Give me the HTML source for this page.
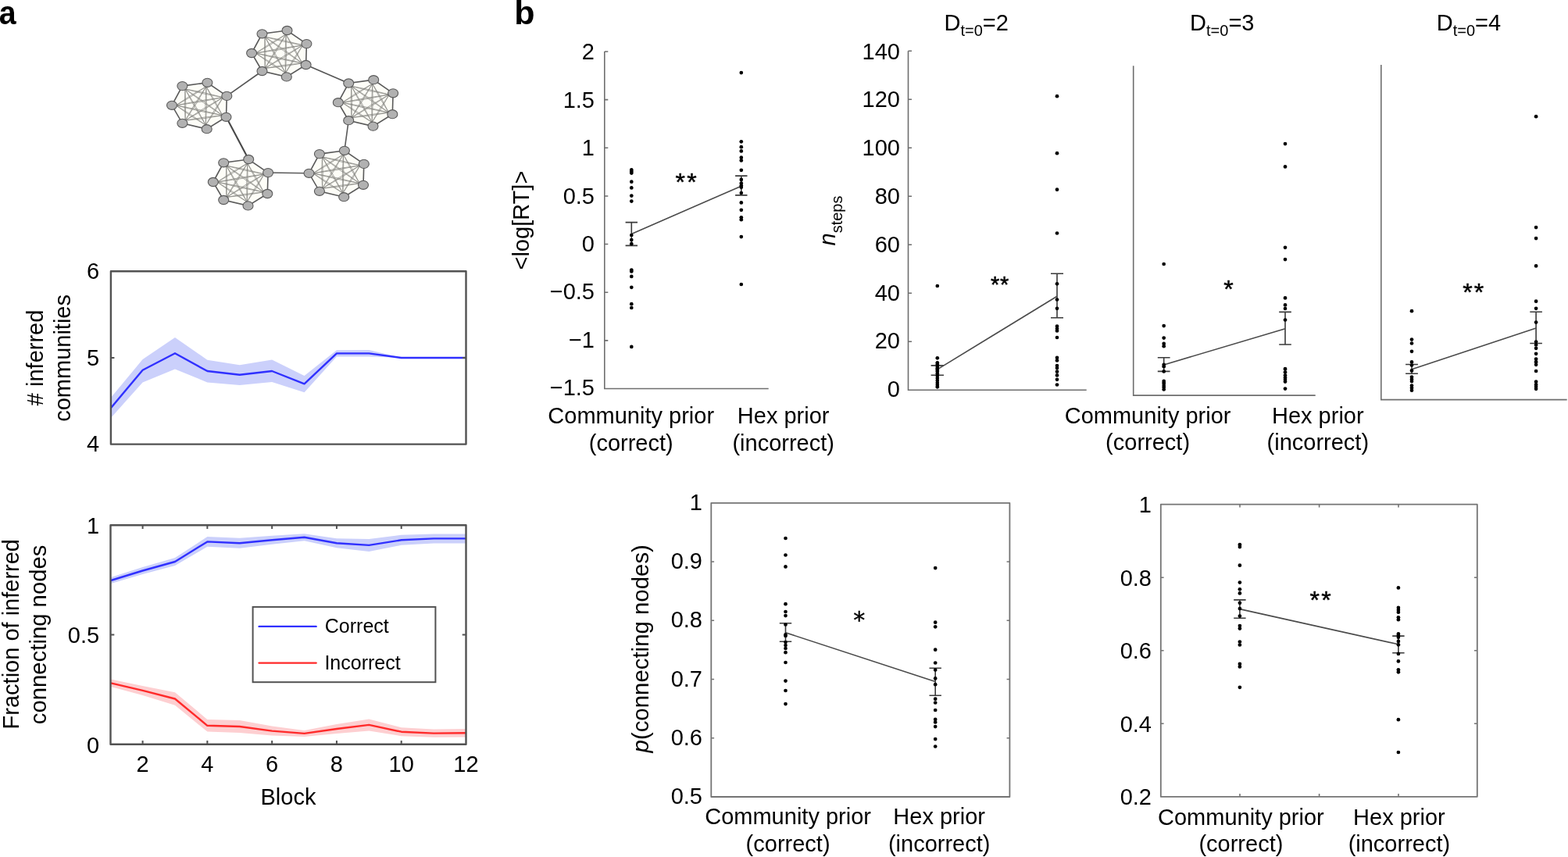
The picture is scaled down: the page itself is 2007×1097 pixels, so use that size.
<!DOCTYPE html>
<html><head><meta charset="utf-8"><title>Figure</title>
<style>
html,body{margin:0;padding:0;background:#fff;}
body{width:2007px;height:1097px;overflow:hidden;}
svg{display:block;}
</style></head>
<body>
<svg width="2007" height="1097" viewBox="0 0 2007 1097" font-family='"Liberation Sans", Arial, Helvetica, sans-serif' fill="#000">
<rect width="2007" height="1097" fill="#fff"/>
<text transform="translate(-1.2 30.8) scale(0.915 1)" font-size="43" font-weight="bold">a</text>
<text x="658.3" y="30.8" font-size="43" font-weight="bold">b</text>
<g><line x1="335.5" y1="91" x2="290.3" y2="122.9" stroke="#555" stroke-width="1.6"/><line x1="391.6" y1="83" x2="446.2" y2="106.5" stroke="#555" stroke-width="1.6"/><line x1="289.5" y1="149.8" x2="318.2" y2="204" stroke="#484848" stroke-width="2.1"/><line x1="343.1" y1="221.1" x2="395.5" y2="221.8" stroke="#5a5a5a" stroke-width="1.5"/><line x1="440.9" y1="192.8" x2="446.2" y2="154.2" stroke="#5a5a5a" stroke-width="1.6"/><polygon points="322.1,68 335.5,43.3 367.5,39 392.4,56.1 391.6,83 366.8,98.4 335.5,91" fill="#fdfdf7" stroke="none"/><path d="M327.3 68.06Q347.45 57.29 366.02 43.98M327.3 68.06Q345.87 54.75 366.02 43.98M327.3 68.06Q357.66 64.45 387.52 57.89M327.3 68.06Q357.16 61.49 387.52 57.89M327.3 68.06Q356.76 75.94 386.85 80.89M327.3 68.06Q357.39 73.01 386.85 80.89M327.3 68.06Q345.55 81.97 365.46 93.38M327.3 68.06Q347.21 79.47 365.46 93.38M339.04 47.11Q362.95 53.96 387.52 57.89M339.04 47.11Q363.6 51.04 387.52 57.89M339.04 47.11Q362.08 65.23 386.85 80.89M339.04 47.11Q363.81 62.77 386.85 80.89M339.04 47.11Q350.94 70.99 365.46 93.38M339.04 47.11Q353.55 69.5 365.46 93.38M339.04 47.11Q337.63 67.25 339.23 87.38M339.04 47.11Q340.63 67.24 339.23 87.38M366.02 43.98Q375.13 63.17 386.85 80.89M366.02 43.98Q377.74 61.7 386.85 80.89M366.02 43.98Q364.24 68.66 365.46 93.38M366.02 43.98Q367.24 68.7 365.46 93.38M366.02 43.98Q351.35 64.89 339.23 87.38M366.02 43.98Q353.9 66.47 339.23 87.38M387.52 57.89Q375.21 74.84 365.46 93.38M387.52 57.89Q377.76 76.42 365.46 93.38M387.52 57.89Q362.59 71.35 339.23 87.38M387.52 57.89Q364.16 73.91 339.23 87.38M386.85 80.89Q362.84 82.65 339.23 87.38M386.85 80.89Q363.24 85.62 339.23 87.38" stroke="#80807c" stroke-width="0.72" fill="none"/><polygon points="322.1,68 335.5,43.3 367.5,39 392.4,56.1 391.6,83 366.8,98.4 335.5,91" fill="none" stroke="#5a5a5a" stroke-width="1.6"/><ellipse cx="322.1" cy="68" rx="6.5" ry="5.6" fill="#b1b1b1" stroke="#5a5a5a" stroke-width="1.1"/><ellipse cx="335.5" cy="43.3" rx="6.5" ry="5.6" fill="#b1b1b1" stroke="#5a5a5a" stroke-width="1.1"/><ellipse cx="367.5" cy="39" rx="6.5" ry="5.6" fill="#b1b1b1" stroke="#5a5a5a" stroke-width="1.1"/><ellipse cx="392.4" cy="56.1" rx="6.5" ry="5.6" fill="#b1b1b1" stroke="#5a5a5a" stroke-width="1.1"/><ellipse cx="391.6" cy="83" rx="6.5" ry="5.6" fill="#b1b1b1" stroke="#5a5a5a" stroke-width="1.1"/><ellipse cx="366.8" cy="98.4" rx="6.5" ry="5.6" fill="#b1b1b1" stroke="#5a5a5a" stroke-width="1.1"/><ellipse cx="335.5" cy="91" rx="6.5" ry="5.6" fill="#b1b1b1" stroke="#5a5a5a" stroke-width="1.1"/><polygon points="220,134.8 233.4,110.1 265.4,105.8 290.3,122.9 289.5,149.8 264.7,165.2 233.4,157.8" fill="#fdfdf7" stroke="none"/><path d="M225.2 134.86Q245.35 124.09 263.92 110.78M225.2 134.86Q243.77 121.55 263.92 110.78M225.2 134.86Q255.56 131.25 285.42 124.69M225.2 134.86Q255.06 128.29 285.42 124.69M225.2 134.86Q254.66 142.74 284.75 147.69M225.2 134.86Q255.29 139.81 284.75 147.69M225.2 134.86Q243.45 148.77 263.36 160.18M225.2 134.86Q245.11 146.27 263.36 160.18M236.94 113.91Q260.85 120.76 285.42 124.69M236.94 113.91Q261.5 117.84 285.42 124.69M236.94 113.91Q259.98 132.03 284.75 147.69M236.94 113.91Q261.71 129.57 284.75 147.69M236.94 113.91Q248.84 137.79 263.36 160.18M236.94 113.91Q251.45 136.3 263.36 160.18M236.94 113.91Q235.53 134.05 237.13 154.18M236.94 113.91Q238.53 134.04 237.13 154.18M263.92 110.78Q273.03 129.97 284.75 147.69M263.92 110.78Q275.64 128.5 284.75 147.69M263.92 110.78Q262.14 135.46 263.36 160.18M263.92 110.78Q265.14 135.5 263.36 160.18M263.92 110.78Q249.25 131.69 237.13 154.18M263.92 110.78Q251.8 133.27 237.13 154.18M285.42 124.69Q273.11 141.64 263.36 160.18M285.42 124.69Q275.66 143.22 263.36 160.18M285.42 124.69Q260.49 138.15 237.13 154.18M285.42 124.69Q262.06 140.71 237.13 154.18M284.75 147.69Q260.74 149.45 237.13 154.18M284.75 147.69Q261.14 152.42 237.13 154.18" stroke="#80807c" stroke-width="0.72" fill="none"/><polygon points="220,134.8 233.4,110.1 265.4,105.8 290.3,122.9 289.5,149.8 264.7,165.2 233.4,157.8" fill="none" stroke="#5a5a5a" stroke-width="1.6"/><ellipse cx="220" cy="134.8" rx="6.5" ry="5.6" fill="#b1b1b1" stroke="#5a5a5a" stroke-width="1.1"/><ellipse cx="233.4" cy="110.1" rx="6.5" ry="5.6" fill="#b1b1b1" stroke="#5a5a5a" stroke-width="1.1"/><ellipse cx="265.4" cy="105.8" rx="6.5" ry="5.6" fill="#b1b1b1" stroke="#5a5a5a" stroke-width="1.1"/><ellipse cx="290.3" cy="122.9" rx="6.5" ry="5.6" fill="#b1b1b1" stroke="#5a5a5a" stroke-width="1.1"/><ellipse cx="289.5" cy="149.8" rx="6.5" ry="5.6" fill="#b1b1b1" stroke="#5a5a5a" stroke-width="1.1"/><ellipse cx="264.7" cy="165.2" rx="6.5" ry="5.6" fill="#b1b1b1" stroke="#5a5a5a" stroke-width="1.1"/><ellipse cx="233.4" cy="157.8" rx="6.5" ry="5.6" fill="#b1b1b1" stroke="#5a5a5a" stroke-width="1.1"/><polygon points="432.8,131.2 446.2,106.5 478.2,102.2 503.1,119.3 502.3,146.2 477.5,161.6 446.2,154.2" fill="#fdfdf7" stroke="none"/><path d="M438 131.26Q458.15 120.49 476.72 107.18M438 131.26Q456.57 117.95 476.72 107.18M438 131.26Q468.36 127.65 498.22 121.09M438 131.26Q467.86 124.69 498.22 121.09M438 131.26Q467.46 139.14 497.55 144.09M438 131.26Q468.09 136.21 497.55 144.09M438 131.26Q456.25 145.17 476.16 156.58M438 131.26Q457.91 142.67 476.16 156.58M449.74 110.31Q473.65 117.16 498.22 121.09M449.74 110.31Q474.3 114.24 498.22 121.09M449.74 110.31Q472.78 128.43 497.55 144.09M449.74 110.31Q474.51 125.97 497.55 144.09M449.74 110.31Q461.64 134.19 476.16 156.58M449.74 110.31Q464.25 132.7 476.16 156.58M449.74 110.31Q448.33 130.45 449.93 150.58M449.74 110.31Q451.33 130.44 449.93 150.58M476.72 107.18Q485.83 126.37 497.55 144.09M476.72 107.18Q488.44 124.9 497.55 144.09M476.72 107.18Q474.94 131.86 476.16 156.58M476.72 107.18Q477.94 131.9 476.16 156.58M476.72 107.18Q462.05 128.09 449.93 150.58M476.72 107.18Q464.6 129.67 449.93 150.58M498.22 121.09Q485.91 138.04 476.16 156.58M498.22 121.09Q488.46 139.62 476.16 156.58M498.22 121.09Q473.29 134.55 449.93 150.58M498.22 121.09Q474.86 137.11 449.93 150.58M497.55 144.09Q473.54 145.85 449.93 150.58M497.55 144.09Q473.94 148.82 449.93 150.58" stroke="#80807c" stroke-width="0.72" fill="none"/><polygon points="432.8,131.2 446.2,106.5 478.2,102.2 503.1,119.3 502.3,146.2 477.5,161.6 446.2,154.2" fill="none" stroke="#5a5a5a" stroke-width="1.6"/><ellipse cx="432.8" cy="131.2" rx="6.5" ry="5.6" fill="#b1b1b1" stroke="#5a5a5a" stroke-width="1.1"/><ellipse cx="446.2" cy="106.5" rx="6.5" ry="5.6" fill="#b1b1b1" stroke="#5a5a5a" stroke-width="1.1"/><ellipse cx="478.2" cy="102.2" rx="6.5" ry="5.6" fill="#b1b1b1" stroke="#5a5a5a" stroke-width="1.1"/><ellipse cx="503.1" cy="119.3" rx="6.5" ry="5.6" fill="#b1b1b1" stroke="#5a5a5a" stroke-width="1.1"/><ellipse cx="502.3" cy="146.2" rx="6.5" ry="5.6" fill="#b1b1b1" stroke="#5a5a5a" stroke-width="1.1"/><ellipse cx="477.5" cy="161.6" rx="6.5" ry="5.6" fill="#b1b1b1" stroke="#5a5a5a" stroke-width="1.1"/><ellipse cx="446.2" cy="154.2" rx="6.5" ry="5.6" fill="#b1b1b1" stroke="#5a5a5a" stroke-width="1.1"/><polygon points="272.8,233 286.2,208.3 318.2,204 343.1,221.1 342.3,248 317.5,263.4 286.2,256" fill="#fdfdf7" stroke="none"/><path d="M278 233.06Q298.15 222.29 316.72 208.98M278 233.06Q296.57 219.75 316.72 208.98M278 233.06Q308.36 229.45 338.22 222.89M278 233.06Q307.86 226.49 338.22 222.89M278 233.06Q307.46 240.94 337.55 245.89M278 233.06Q308.09 238.01 337.55 245.89M278 233.06Q296.25 246.97 316.16 258.38M278 233.06Q297.91 244.47 316.16 258.38M289.74 212.11Q313.65 218.96 338.22 222.89M289.74 212.11Q314.3 216.04 338.22 222.89M289.74 212.11Q312.78 230.23 337.55 245.89M289.74 212.11Q314.51 227.77 337.55 245.89M289.74 212.11Q301.64 235.99 316.16 258.38M289.74 212.11Q304.25 234.5 316.16 258.38M289.74 212.11Q288.33 232.25 289.93 252.38M289.74 212.11Q291.33 232.24 289.93 252.38M316.72 208.98Q325.83 228.17 337.55 245.89M316.72 208.98Q328.44 226.7 337.55 245.89M316.72 208.98Q314.94 233.66 316.16 258.38M316.72 208.98Q317.94 233.7 316.16 258.38M316.72 208.98Q302.05 229.89 289.93 252.38M316.72 208.98Q304.6 231.47 289.93 252.38M338.22 222.89Q325.91 239.84 316.16 258.38M338.22 222.89Q328.46 241.42 316.16 258.38M338.22 222.89Q313.29 236.35 289.93 252.38M338.22 222.89Q314.86 238.91 289.93 252.38M337.55 245.89Q313.54 247.65 289.93 252.38M337.55 245.89Q313.94 250.62 289.93 252.38" stroke="#80807c" stroke-width="0.72" fill="none"/><polygon points="272.8,233 286.2,208.3 318.2,204 343.1,221.1 342.3,248 317.5,263.4 286.2,256" fill="none" stroke="#5a5a5a" stroke-width="1.6"/><ellipse cx="272.8" cy="233" rx="6.5" ry="5.6" fill="#b1b1b1" stroke="#5a5a5a" stroke-width="1.1"/><ellipse cx="286.2" cy="208.3" rx="6.5" ry="5.6" fill="#b1b1b1" stroke="#5a5a5a" stroke-width="1.1"/><ellipse cx="318.2" cy="204" rx="6.5" ry="5.6" fill="#b1b1b1" stroke="#5a5a5a" stroke-width="1.1"/><ellipse cx="343.1" cy="221.1" rx="6.5" ry="5.6" fill="#b1b1b1" stroke="#5a5a5a" stroke-width="1.1"/><ellipse cx="342.3" cy="248" rx="6.5" ry="5.6" fill="#b1b1b1" stroke="#5a5a5a" stroke-width="1.1"/><ellipse cx="317.5" cy="263.4" rx="6.5" ry="5.6" fill="#b1b1b1" stroke="#5a5a5a" stroke-width="1.1"/><ellipse cx="286.2" cy="256" rx="6.5" ry="5.6" fill="#b1b1b1" stroke="#5a5a5a" stroke-width="1.1"/><polygon points="395.5,221.8 408.9,197.1 440.9,192.8 465.8,209.9 465,236.8 440.2,252.2 408.9,244.8" fill="#fdfdf7" stroke="none"/><path d="M400.7 221.86Q420.85 211.09 439.42 197.78M400.7 221.86Q419.27 208.55 439.42 197.78M400.7 221.86Q431.06 218.25 460.92 211.69M400.7 221.86Q430.56 215.29 460.92 211.69M400.7 221.86Q430.16 229.74 460.25 234.69M400.7 221.86Q430.79 226.81 460.25 234.69M400.7 221.86Q418.95 235.77 438.86 247.18M400.7 221.86Q420.61 233.27 438.86 247.18M412.44 200.91Q436.35 207.76 460.92 211.69M412.44 200.91Q437 204.84 460.92 211.69M412.44 200.91Q435.48 219.03 460.25 234.69M412.44 200.91Q437.21 216.57 460.25 234.69M412.44 200.91Q424.34 224.79 438.86 247.18M412.44 200.91Q426.95 223.3 438.86 247.18M412.44 200.91Q411.03 221.05 412.63 241.18M412.44 200.91Q414.03 221.04 412.63 241.18M439.42 197.78Q448.53 216.97 460.25 234.69M439.42 197.78Q451.14 215.5 460.25 234.69M439.42 197.78Q437.64 222.46 438.86 247.18M439.42 197.78Q440.64 222.5 438.86 247.18M439.42 197.78Q424.75 218.69 412.63 241.18M439.42 197.78Q427.3 220.27 412.63 241.18M460.92 211.69Q448.61 228.64 438.86 247.18M460.92 211.69Q451.16 230.22 438.86 247.18M460.92 211.69Q435.99 225.15 412.63 241.18M460.92 211.69Q437.56 227.71 412.63 241.18M460.25 234.69Q436.24 236.45 412.63 241.18M460.25 234.69Q436.64 239.42 412.63 241.18" stroke="#80807c" stroke-width="0.72" fill="none"/><polygon points="395.5,221.8 408.9,197.1 440.9,192.8 465.8,209.9 465,236.8 440.2,252.2 408.9,244.8" fill="none" stroke="#5a5a5a" stroke-width="1.6"/><ellipse cx="395.5" cy="221.8" rx="6.5" ry="5.6" fill="#b1b1b1" stroke="#5a5a5a" stroke-width="1.1"/><ellipse cx="408.9" cy="197.1" rx="6.5" ry="5.6" fill="#b1b1b1" stroke="#5a5a5a" stroke-width="1.1"/><ellipse cx="440.9" cy="192.8" rx="6.5" ry="5.6" fill="#b1b1b1" stroke="#5a5a5a" stroke-width="1.1"/><ellipse cx="465.8" cy="209.9" rx="6.5" ry="5.6" fill="#b1b1b1" stroke="#5a5a5a" stroke-width="1.1"/><ellipse cx="465" cy="236.8" rx="6.5" ry="5.6" fill="#b1b1b1" stroke="#5a5a5a" stroke-width="1.1"/><ellipse cx="440.2" cy="252.2" rx="6.5" ry="5.6" fill="#b1b1b1" stroke="#5a5a5a" stroke-width="1.1"/><ellipse cx="408.9" cy="244.8" rx="6.5" ry="5.6" fill="#b1b1b1" stroke="#5a5a5a" stroke-width="1.1"/></g>
<polygon points="141.9,509 182.59,460.1 223.98,432 265.37,460.7 306.76,467.2 348.15,460.5 389.54,480.9 430.93,448.2 472.32,447.9 513.71,458 555.1,458 596.5,458 596.5,458 555.1,458 513.71,458 472.32,456.6 430.93,456.6 389.54,502.3 348.15,489 306.76,492.9 265.37,489.4 223.98,472.6 182.59,489.4 141.9,535" fill="#cbd0fb" stroke="none"/>
<polyline points="141.9,522.2 182.59,473.8 223.98,452.3 265.37,475 306.76,479.8 348.15,475 389.54,491.3 430.93,452.4 472.32,452.4 513.71,458 555.1,458 596.5,458" fill="none" stroke="#3030ff" stroke-width="2.4" stroke-linejoin="round"/>
<rect x="141.9" y="347.2" width="454.6" height="221.4" fill="none" stroke="#525252" stroke-width="2.4" stroke-linejoin="round"/>
<path d="M141.9 457.9h4.5M596.5 457.9h-4.5" stroke="#525252" stroke-width="2"/>
<text x="127.2" y="356.8" font-size="29" text-anchor="end">6</text>
<text x="127.2" y="467.5" font-size="29" text-anchor="end">5</text>
<text x="127.2" y="578.2" font-size="29" text-anchor="end">4</text>
<text transform="translate(54.7 457.9) rotate(-90)" font-size="29" text-anchor="middle">#  inferred</text>
<text transform="translate(90.0 458.4) rotate(-90)" font-size="29" text-anchor="middle">communities</text>
<polygon points="141.9,739 182.59,726 223.98,714 265.37,687.1 306.76,688.7 348.15,685.8 389.54,683.3 430.93,689.3 472.32,689.9 513.71,684.8 555.1,683.4 596.5,683.4 596.5,695.4 555.1,695.4 513.71,697.8 472.32,705.9 430.93,701.3 389.54,692.3 348.15,696.8 306.76,701.7 265.37,699.7 223.98,724 182.59,735 141.9,747" fill="#cbd0fb" stroke="none"/>
<polygon points="141.9,869.5 182.59,877.9 223.98,886.2 265.37,921 306.76,922 348.15,929.6 389.54,934.9 430.93,927 472.32,920.4 513.71,931.2 555.1,933.4 596.5,933 596.5,943.4 555.1,943.8 513.71,942.2 472.32,935.4 430.93,939 389.54,942.9 348.15,941.6 306.76,938 265.37,936.6 223.98,902.8 182.59,889.9 141.9,879.1" fill="#fdcfd1" stroke="none"/>
<polyline points="141.9,743 182.59,730.5 223.98,719 265.37,693.4 306.76,695.2 348.15,691.3 389.54,687.8 430.93,695.3 472.32,697.9 513.71,691.3 555.1,689.4 596.5,689.4" fill="none" stroke="#3030ff" stroke-width="2.4" stroke-linejoin="round"/>
<polyline points="141.9,874.3 182.59,883.9 223.98,894.5 265.37,928.8 306.76,930 348.15,935.6 389.54,938.9 430.93,933 472.32,927.9 513.71,936.7 555.1,938.6 596.5,938.2" fill="none" stroke="#ff2a2a" stroke-width="2.4" stroke-linejoin="round"/>
<rect x="141.5" y="672.3" width="455" height="280.4" fill="none" stroke="#525252" stroke-width="2.4" stroke-linejoin="round"/>
<path d="M182.59 672.3v4.8M182.59 952.7v-4.8M265.37 672.3v4.8M265.37 952.7v-4.8M348.15 672.3v4.8M348.15 952.7v-4.8M430.93 672.3v4.8M430.93 952.7v-4.8M513.71 672.3v4.8M513.71 952.7v-4.8M141.5 812.5h4.8M596.5 812.5h-4.8" stroke="#525252" stroke-width="2"/>
<text x="127.2" y="683.2" font-size="29" text-anchor="end">1</text>
<text x="127.2" y="823.4" font-size="29" text-anchor="end">0.5</text>
<text x="127.2" y="963.6" font-size="29" text-anchor="end">0</text>
<text x="182.59" y="988" font-size="29" text-anchor="middle">2</text>
<text x="265.37" y="988" font-size="29" text-anchor="middle">4</text>
<text x="348.15" y="988" font-size="29" text-anchor="middle">6</text>
<text x="430.93" y="988" font-size="29" text-anchor="middle">8</text>
<text x="513.71" y="988" font-size="29" text-anchor="middle">10</text>
<text x="596.49" y="988" font-size="29" text-anchor="middle">12</text>
<text x="369" y="1030.4" font-size="29" text-anchor="middle">Block</text>
<text transform="translate(23.8 811.7) rotate(-90)" font-size="29" text-anchor="middle">Fraction of inferred</text>
<text transform="translate(59.1 812.4) rotate(-90)" font-size="29.3" text-anchor="middle">connecting nodes</text>
<rect x="323.6" y="776.9" width="233.8" height="96.3" fill="#fff" stroke="#525252" stroke-width="2"/>
<line x1="331.6" y1="801.9" x2="404.6" y2="801.9" stroke="#3030ff" stroke-width="2.4" stroke-linecap="round"/>
<line x1="331.6" y1="848.6" x2="404.6" y2="848.6" stroke="#ff2a2a" stroke-width="2.4" stroke-linecap="round"/>
<text x="415.8" y="810.3" font-size="25">Correct</text>
<text x="415.4" y="857" font-size="25">Incorrect</text>
<path d="M773.8 66V497.5H983.7" fill="none" stroke="#6e6e6e" stroke-width="1.6"/>
<text x="761" y="76.3" font-size="29" text-anchor="end">2</text>
<text x="761" y="137.7" font-size="29" text-anchor="end">1.5</text>
<text x="761" y="199.1" font-size="29" text-anchor="end">1</text>
<text x="761" y="260.5" font-size="29" text-anchor="end">0.5</text>
<text x="761" y="321.9" font-size="29" text-anchor="end">0</text>
<text x="761" y="383.3" font-size="29" text-anchor="end">−0.5</text>
<text x="761" y="444.7" font-size="29" text-anchor="end">−1</text>
<text x="761" y="506.1" font-size="29" text-anchor="end">−1.5</text>
<path d="M773.8 66h4.5M773.8 127.64h4.5M773.8 189.29h4.5M773.8 250.93h4.5M773.8 312.57h4.5M773.8 374.21h4.5M773.8 435.86h4.5" stroke="#6e6e6e" stroke-width="1.6"/>
<g fill="#000"><path d="M800.6 284.6h15.4M800.6 314.4h15.4M808.3 284.6V314.4" stroke="#3a3a3a" stroke-width="1.6" fill="none"/><path d="M941.1 225.1h15.4M941.1 249.9h15.4M948.8 225.1V249.9" stroke="#3a3a3a" stroke-width="1.6" fill="none"/><line x1="808.3" y1="299.4" x2="948.8" y2="238.2" stroke="#4a4a4a" stroke-width="1.6"/><circle cx="808.3" cy="217.4" r="2.35"/><circle cx="808.3" cy="219.6" r="2.35"/><circle cx="808.3" cy="221.6" r="2.35"/><circle cx="808.3" cy="232.7" r="2.35"/><circle cx="808.3" cy="240.4" r="2.35"/><circle cx="808.3" cy="250.6" r="2.35"/><circle cx="808.3" cy="257.6" r="2.35"/><circle cx="808.3" cy="301" r="2.35"/><circle cx="808.3" cy="307.1" r="2.35"/><circle cx="808.3" cy="312.2" r="2.35"/><circle cx="808.3" cy="345.5" r="2.35"/><circle cx="808.3" cy="347.4" r="2.35"/><circle cx="808.3" cy="353.9" r="2.35"/><circle cx="808.3" cy="367.8" r="2.35"/><circle cx="808.3" cy="389.2" r="2.35"/><circle cx="808.3" cy="394" r="2.35"/><circle cx="808.3" cy="443.9" r="2.35"/><circle cx="948.8" cy="93.1" r="2.35"/><circle cx="948.8" cy="181.3" r="2.35"/><circle cx="948.8" cy="188.2" r="2.35"/><circle cx="948.8" cy="193.4" r="2.35"/><circle cx="948.8" cy="201.7" r="2.35"/><circle cx="948.8" cy="205.4" r="2.35"/><circle cx="948.8" cy="217.8" r="2.35"/><circle cx="948.8" cy="229.9" r="2.35"/><circle cx="948.8" cy="234.6" r="2.35"/><circle cx="948.8" cy="237.5" r="2.35"/><circle cx="948.8" cy="239.7" r="2.35"/><circle cx="948.8" cy="247" r="2.35"/><circle cx="948.8" cy="259.4" r="2.35"/><circle cx="948.8" cy="268.8" r="2.35"/><circle cx="948.8" cy="278.3" r="2.35"/><circle cx="948.8" cy="281.2" r="2.35"/><circle cx="948.8" cy="303.1" r="2.35"/><circle cx="948.8" cy="364" r="2.35"/></g>
<text x="879.3" y="243.5" font-size="32" letter-spacing="2.4" stroke="#000" stroke-width="0.5" text-anchor="middle">**</text>
<text transform="translate(677.4 282.1) rotate(-90)" font-size="29" text-anchor="middle">&lt;log[RT]&gt;</text>
<text x="807.7" y="542.3" font-size="29" text-anchor="middle">Community prior</text>
<text x="807.7" y="576.7" font-size="29" text-anchor="middle">(correct)</text>
<text x="1002.7" y="542.1" font-size="29" text-anchor="middle">Hex prior</text>
<text x="1002.7" y="576.5" font-size="29" text-anchor="middle">(incorrect)</text>
<path d="M1162.5 65.3V499.3H1390.7" fill="none" stroke="#6e6e6e" stroke-width="1.6"/>
<text x="1152" y="75.6" font-size="29" text-anchor="end">140</text>
<text x="1152" y="137.39" font-size="29" text-anchor="end">120</text>
<text x="1152" y="199.17" font-size="29" text-anchor="end">100</text>
<text x="1152" y="260.96" font-size="29" text-anchor="end">80</text>
<text x="1152" y="322.74" font-size="29" text-anchor="end">60</text>
<text x="1152" y="384.53" font-size="29" text-anchor="end">40</text>
<text x="1152" y="446.31" font-size="29" text-anchor="end">20</text>
<text x="1152" y="508.1" font-size="29" text-anchor="end">0</text>
<path d="M1162.5 65.3h4.5M1162.5 127.3h4.5M1162.5 189.3h4.5M1162.5 251.3h4.5M1162.5 313.3h4.5M1162.5 375.3h4.5M1162.5 437.3h4.5" stroke="#6e6e6e" stroke-width="1.6"/>
<g fill="#000"><path d="M1191.6 467.9h16.4M1191.6 480.3h16.4M1199.8 467.9V480.3" stroke="#3a3a3a" stroke-width="1.6" fill="none"/><path d="M1345 350.2h16M1345 406.7h16M1353 350.2V406.7" stroke="#3a3a3a" stroke-width="1.6" fill="none"/><line x1="1199.8" y1="472.9" x2="1353" y2="379.3" stroke="#4a4a4a" stroke-width="1.6"/><circle cx="1199.8" cy="366" r="2.35"/><circle cx="1199.8" cy="458.3" r="2.35"/><circle cx="1199.8" cy="464.3" r="2.35"/><circle cx="1199.8" cy="466.6" r="2.35"/><circle cx="1199.8" cy="469" r="2.35"/><circle cx="1199.8" cy="471.3" r="2.35"/><circle cx="1199.8" cy="473.2" r="2.35"/><circle cx="1199.8" cy="475.6" r="2.35"/><circle cx="1199.8" cy="478.2" r="2.35"/><circle cx="1199.8" cy="481" r="2.35"/><circle cx="1199.8" cy="484" r="2.35"/><circle cx="1199.8" cy="487" r="2.35"/><circle cx="1199.8" cy="490" r="2.35"/><circle cx="1199.8" cy="492.8" r="2.35"/><circle cx="1199.8" cy="495.3" r="2.35"/><circle cx="1353" cy="123.2" r="2.35"/><circle cx="1353" cy="196.2" r="2.35"/><circle cx="1353" cy="242.7" r="2.35"/><circle cx="1353" cy="298.5" r="2.35"/><circle cx="1353" cy="363.3" r="2.35"/><circle cx="1353" cy="383.5" r="2.35"/><circle cx="1353" cy="394.8" r="2.35"/><circle cx="1353" cy="417.6" r="2.35"/><circle cx="1353" cy="420.7" r="2.35"/><circle cx="1353" cy="423.5" r="2.35"/><circle cx="1353" cy="432" r="2.35"/><circle cx="1353" cy="457.9" r="2.35"/><circle cx="1353" cy="461.5" r="2.35"/><circle cx="1353" cy="468" r="2.35"/><circle cx="1353" cy="471.1" r="2.35"/><circle cx="1353" cy="475.7" r="2.35"/><circle cx="1353" cy="480.4" r="2.35"/><circle cx="1353" cy="485.8" r="2.35"/><circle cx="1353" cy="492.5" r="2.35"/></g>
<text x="1280.1" y="373.5" font-size="29" letter-spacing="0.8" stroke="#000" stroke-width="0.5" text-anchor="middle">**</text>
<path d="M1450.7 84.2V506.1H1683.7" fill="none" stroke="#6e6e6e" stroke-width="1.6"/>
<g fill="#000"><path d="M1481.8 457.8h15.8M1481.8 475.4h15.8M1489.7 457.8V475.4" stroke="#3a3a3a" stroke-width="1.6" fill="none"/><path d="M1637.2 399.4h15.6M1637.2 441h15.6M1645 399.4V441" stroke="#3a3a3a" stroke-width="1.6" fill="none"/><line x1="1489.7" y1="466.9" x2="1645" y2="420.8" stroke="#4a4a4a" stroke-width="1.6"/><circle cx="1489.7" cy="338" r="2.35"/><circle cx="1489.7" cy="417.1" r="2.35"/><circle cx="1489.7" cy="432.6" r="2.35"/><circle cx="1489.7" cy="439.9" r="2.35"/><circle cx="1489.7" cy="443.2" r="2.35"/><circle cx="1489.7" cy="466.9" r="2.35"/><circle cx="1489.7" cy="469.2" r="2.35"/><circle cx="1489.7" cy="475.4" r="2.35"/><circle cx="1489.7" cy="487.9" r="2.35"/><circle cx="1489.7" cy="490.2" r="2.35"/><circle cx="1489.7" cy="493" r="2.35"/><circle cx="1489.7" cy="495.5" r="2.35"/><circle cx="1489.7" cy="498.4" r="2.35"/><circle cx="1645" cy="184.1" r="2.35"/><circle cx="1645" cy="213.4" r="2.35"/><circle cx="1645" cy="316.8" r="2.35"/><circle cx="1645" cy="332.1" r="2.35"/><circle cx="1645" cy="381.4" r="2.35"/><circle cx="1645" cy="390.4" r="2.35"/><circle cx="1645" cy="395" r="2.35"/><circle cx="1645" cy="409.5" r="2.35"/><circle cx="1645" cy="472.2" r="2.35"/><circle cx="1645" cy="476.3" r="2.35"/><circle cx="1645" cy="480.4" r="2.35"/><circle cx="1645" cy="483.5" r="2.35"/><circle cx="1645" cy="486" r="2.35"/><circle cx="1645" cy="488.6" r="2.35"/><circle cx="1645" cy="497.6" r="2.35"/></g>
<text x="1572.5" y="380.5" font-size="32" stroke="#000" stroke-width="0.5" text-anchor="middle">*</text>
<path d="M1767.8 83.1V511.6H2005.7" fill="none" stroke="#6e6e6e" stroke-width="1.6"/>
<g fill="#000"><path d="M1799.1 466.5h15.8M1799.1 478.2h15.8M1807 466.5V478.2" stroke="#3a3a3a" stroke-width="1.6" fill="none"/><path d="M1958.3 399.3h15.6M1958.3 439.5h15.6M1966.1 399.3V439.5" stroke="#3a3a3a" stroke-width="1.6" fill="none"/><line x1="1807" y1="472.7" x2="1966.1" y2="419.9" stroke="#4a4a4a" stroke-width="1.6"/><circle cx="1807" cy="398.2" r="2.35"/><circle cx="1807" cy="434.6" r="2.35"/><circle cx="1807" cy="439.5" r="2.35"/><circle cx="1807" cy="449.8" r="2.35"/><circle cx="1807" cy="463.4" r="2.35"/><circle cx="1807" cy="467.5" r="2.35"/><circle cx="1807" cy="474.4" r="2.35"/><circle cx="1807" cy="482.6" r="2.35"/><circle cx="1807" cy="485.4" r="2.35"/><circle cx="1807" cy="488.1" r="2.35"/><circle cx="1807" cy="493.5" r="2.35"/><circle cx="1807" cy="496.6" r="2.35"/><circle cx="1807" cy="499.7" r="2.35"/><circle cx="1966.1" cy="149.2" r="2.35"/><circle cx="1966.1" cy="291.1" r="2.35"/><circle cx="1966.1" cy="305.1" r="2.35"/><circle cx="1966.1" cy="340.4" r="2.35"/><circle cx="1966.1" cy="385.7" r="2.35"/><circle cx="1966.1" cy="394.8" r="2.35"/><circle cx="1966.1" cy="412.6" r="2.35"/><circle cx="1966.1" cy="437.6" r="2.35"/><circle cx="1966.1" cy="441.5" r="2.35"/><circle cx="1966.1" cy="445.8" r="2.35"/><circle cx="1966.1" cy="452.8" r="2.35"/><circle cx="1966.1" cy="459.5" r="2.35"/><circle cx="1966.1" cy="463.2" r="2.35"/><circle cx="1966.1" cy="466.8" r="2.35"/><circle cx="1966.1" cy="475" r="2.35"/><circle cx="1966.1" cy="488.7" r="2.35"/><circle cx="1966.1" cy="492.4" r="2.35"/><circle cx="1966.1" cy="495.1" r="2.35"/><circle cx="1966.1" cy="497.8" r="2.35"/></g>
<text x="1886.8" y="385" font-size="32" letter-spacing="2.2" stroke="#000" stroke-width="0.5" text-anchor="middle">**</text>
<text x="1469.1" y="542.2" font-size="29" text-anchor="middle">Community prior</text>
<text x="1469.1" y="576.3" font-size="29" text-anchor="middle">(correct)</text>
<text x="1686.8" y="542.2" font-size="29" text-anchor="middle">Hex prior</text>
<text x="1686.8" y="576.3" font-size="29" text-anchor="middle">(incorrect)</text>
<text x="1208.5" y="38.5" font-size="29">D<tspan font-size="20" dy="7.8">t=0</tspan><tspan dy="-7.8">=2</tspan></text>
<text x="1523.1" y="38.5" font-size="29">D<tspan font-size="20" dy="7.8">t=0</tspan><tspan dy="-7.8">=3</tspan></text>
<text x="1838.7" y="38.5" font-size="29">D<tspan font-size="20" dy="7.8">t=0</tspan><tspan dy="-7.8">=4</tspan></text>
<text transform="translate(1069 282.5) rotate(-90)" font-size="29" text-anchor="middle"><tspan font-style="italic">n</tspan><tspan font-size="20" dy="8.8">steps</tspan></text>
<rect x="910.3" y="643.8" width="382.1" height="376.2" fill="none" stroke="#747474" stroke-width="1.8" stroke-linejoin="round"/>
<path d="M910.3 944.76h3.8M1292.4 944.76h-3.8M910.3 869.52h3.8M1292.4 869.52h-3.8M910.3 794.28h3.8M1292.4 794.28h-3.8M910.3 719.04h3.8M1292.4 719.04h-3.8" stroke="#747474" stroke-width="1.6"/>
<text x="899" y="1029.1" font-size="29" text-anchor="end">0.5</text>
<text x="899" y="953.86" font-size="29" text-anchor="end">0.6</text>
<text x="899" y="878.62" font-size="29" text-anchor="end">0.7</text>
<text x="899" y="803.38" font-size="29" text-anchor="end">0.8</text>
<text x="899" y="728.14" font-size="29" text-anchor="end">0.9</text>
<text x="899" y="652.9" font-size="29" text-anchor="end">1</text>
<g fill="#000"><path d="M997.8 797.7h15.4M997.8 821.3h15.4M1005.5 797.7V821.3" stroke="#3a3a3a" stroke-width="1.6" fill="none"/><path d="M1189.5 855.3h15.4M1189.5 890.3h15.4M1197.2 855.3V890.3" stroke="#3a3a3a" stroke-width="1.6" fill="none"/><line x1="1005.5" y1="809.8" x2="1197.2" y2="872.4" stroke="#4a4a4a" stroke-width="1.6"/><circle cx="1005.5" cy="689" r="2.35"/><circle cx="1005.5" cy="710.5" r="2.35"/><circle cx="1005.5" cy="725.4" r="2.35"/><circle cx="1005.5" cy="773.2" r="2.35"/><circle cx="1005.5" cy="783" r="2.35"/><circle cx="1005.5" cy="788.1" r="2.35"/><circle cx="1005.5" cy="799.5" r="2.35"/><circle cx="1005.5" cy="812.4" r="2.35"/><circle cx="1005.5" cy="814" r="2.35"/><circle cx="1005.5" cy="822" r="2.35"/><circle cx="1005.5" cy="826" r="2.35"/><circle cx="1005.5" cy="830" r="2.35"/><circle cx="1005.5" cy="835.2" r="2.35"/><circle cx="1005.5" cy="848" r="2.35"/><circle cx="1005.5" cy="871.6" r="2.35"/><circle cx="1005.5" cy="884" r="2.35"/><circle cx="1005.5" cy="901.1" r="2.35"/><circle cx="1197.2" cy="727.1" r="2.35"/><circle cx="1197.2" cy="796.7" r="2.35"/><circle cx="1197.2" cy="802.3" r="2.35"/><circle cx="1197.2" cy="831.7" r="2.35"/><circle cx="1197.2" cy="848.5" r="2.35"/><circle cx="1197.2" cy="857.5" r="2.35"/><circle cx="1197.2" cy="868.4" r="2.35"/><circle cx="1197.2" cy="876.2" r="2.35"/><circle cx="1197.2" cy="894.7" r="2.35"/><circle cx="1197.2" cy="899.5" r="2.35"/><circle cx="1197.2" cy="909" r="2.35"/><circle cx="1197.2" cy="920.9" r="2.35"/><circle cx="1197.2" cy="924.5" r="2.35"/><circle cx="1197.2" cy="930.1" r="2.35"/><circle cx="1197.2" cy="946.1" r="2.35"/><circle cx="1197.2" cy="955.5" r="2.35"/></g>
<text x="1099.8" y="804" font-size="30" font-family="DejaVu Sans" stroke="#000" stroke-width="0.4" text-anchor="middle">*</text>
<text transform="translate(830.1 830.3) rotate(-90)" font-size="29.4" text-anchor="middle"><tspan font-style="italic">p</tspan>(connecting nodes)</text>
<text x="1008.6" y="1054.9" font-size="29" text-anchor="middle">Community prior</text>
<text x="1008.6" y="1089.8" font-size="29" text-anchor="middle">(correct)</text>
<text x="1202.2" y="1054.9" font-size="29" text-anchor="middle">Hex prior</text>
<text x="1202.2" y="1089.8" font-size="29" text-anchor="middle">(incorrect)</text>
<rect x="1485.8" y="645.7" width="405" height="374.1" fill="none" stroke="#747474" stroke-width="1.8" stroke-linejoin="round"/>
<path d="M1485.8 926.27h3.8M1890.8 926.27h-3.8M1485.8 832.75h3.8M1890.8 832.75h-3.8M1485.8 739.23h3.8M1890.8 739.23h-3.8M1587 645.7v3.8M1587 1019.8v-3.8M1688.6 645.7v3.8M1688.6 1019.8v-3.8M1790 645.7v3.8M1790 1019.8v-3.8" stroke="#747474" stroke-width="1.6"/>
<text x="1474" y="1030.1" font-size="29" text-anchor="end">0.2</text>
<text x="1474" y="936.57" font-size="29" text-anchor="end">0.4</text>
<text x="1474" y="843.05" font-size="29" text-anchor="end">0.6</text>
<text x="1474" y="749.52" font-size="29" text-anchor="end">0.8</text>
<text x="1474" y="656" font-size="29" text-anchor="end">1</text>
<g fill="#000"><path d="M1579.2 767.9h15.4M1579.2 791.2h15.4M1586.9 767.9V791.2" stroke="#3a3a3a" stroke-width="1.6" fill="none"/><path d="M1782.2 814.1h15.4M1782.2 835.8h15.4M1789.9 814.1V835.8" stroke="#3a3a3a" stroke-width="1.6" fill="none"/><line x1="1586.9" y1="779.6" x2="1789.9" y2="824.8" stroke="#4a4a4a" stroke-width="1.6"/><circle cx="1586.9" cy="697.2" r="2.35"/><circle cx="1586.9" cy="700.1" r="2.35"/><circle cx="1586.9" cy="723.7" r="2.35"/><circle cx="1586.9" cy="745.6" r="2.35"/><circle cx="1586.9" cy="754.3" r="2.35"/><circle cx="1586.9" cy="759.4" r="2.35"/><circle cx="1586.9" cy="771.8" r="2.35"/><circle cx="1586.9" cy="779.1" r="2.35"/><circle cx="1586.9" cy="788.6" r="2.35"/><circle cx="1586.9" cy="801" r="2.35"/><circle cx="1586.9" cy="804.6" r="2.35"/><circle cx="1586.9" cy="821.5" r="2.35"/><circle cx="1586.9" cy="825.5" r="2.35"/><circle cx="1586.9" cy="849.9" r="2.35"/><circle cx="1586.9" cy="853.5" r="2.35"/><circle cx="1586.9" cy="879.8" r="2.35"/><circle cx="1789.9" cy="752.4" r="2.35"/><circle cx="1789.9" cy="777.9" r="2.35"/><circle cx="1789.9" cy="780.8" r="2.35"/><circle cx="1789.9" cy="783.7" r="2.35"/><circle cx="1789.9" cy="790.3" r="2.35"/><circle cx="1789.9" cy="793.2" r="2.35"/><circle cx="1789.9" cy="811.4" r="2.35"/><circle cx="1789.9" cy="813.6" r="2.35"/><circle cx="1789.9" cy="815.8" r="2.35"/><circle cx="1789.9" cy="820.9" r="2.35"/><circle cx="1789.9" cy="825.3" r="2.35"/><circle cx="1789.9" cy="836.9" r="2.35"/><circle cx="1789.9" cy="846.4" r="2.35"/><circle cx="1789.9" cy="857.3" r="2.35"/><circle cx="1789.9" cy="860.3" r="2.35"/><circle cx="1789.9" cy="921.2" r="2.35"/><circle cx="1789.9" cy="963" r="2.35"/></g>
<text x="1691.2" y="778.5" font-size="32" letter-spacing="2.2" stroke="#000" stroke-width="0.5" text-anchor="middle">**</text>
<text x="1588.4" y="1055.5" font-size="29" text-anchor="middle">Community prior</text>
<text x="1588.4" y="1090.2" font-size="29" text-anchor="middle">(correct)</text>
<text x="1790.9" y="1055.5" font-size="29" text-anchor="middle">Hex prior</text>
<text x="1790.9" y="1090.2" font-size="29" text-anchor="middle">(incorrect)</text>
</svg>
</body></html>
